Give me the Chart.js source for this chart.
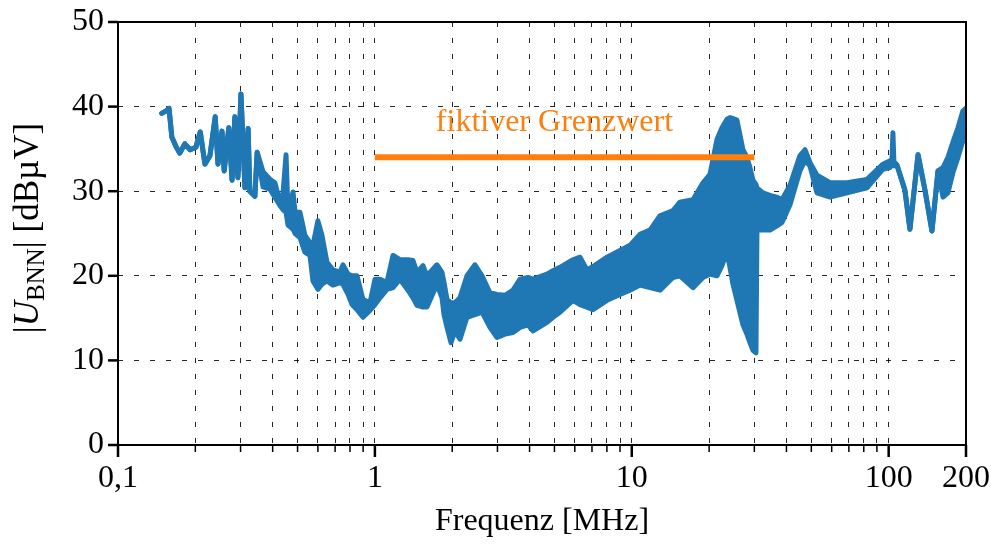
<!DOCTYPE html>
<html lang="de">
<head>
<meta charset="utf-8">
<title>Störspannung BNN</title>
<script src="https://cdn.jsdelivr.net/npm/chart.js@4.4.1/dist/chart.umd.min.js"></script>
<style>
  html, body { margin: 0; padding: 0; background: #fff; }
  #wrap { width: 991px; height: 545px; }
</style>
</head>
<body>
<div id="wrap"><canvas id="pegel" width="991" height="545"></canvas></div>
<script>
// Messfrequenzen in MHz
const frequenz = [
  0.148, 0.154, 0.158, 0.162, 0.168, 0.174, 0.182, 0.191, 0.201, 0.209,
  0.218, 0.228, 0.239, 0.245, 0.254, 0.259, 0.270, 0.278, 0.285, 0.293,
  0.301, 0.312, 0.321, 0.326, 0.341, 0.348, 0.367, 0.391, 0.408, 0.427,
  0.439, 0.451, 0.459, 0.480, 0.489, 0.511, 0.534, 0.559, 0.574, 0.600,
  0.622, 0.651, 0.687, 0.731, 0.751, 0.786, 0.815, 0.852, 0.899, 0.957,
  1.001, 1.047, 1.114, 1.176, 1.252, 1.345, 1.407, 1.458, 1.539, 1.595,
  1.745, 1.825, 1.858, 1.909, 1.978, 2.050, 2.144, 2.283, 2.452, 2.612,
  2.805, 2.988, 3.209, 3.448, 3.672, 3.945, 4.126, 4.677, 4.935, 5.255,
  5.903, 6.286, 6.693, 7.063, 8.009, 8.997, 9.84, 10.76, 11.77, 12.88,
  14.47, 15.40, 17.31, 18.93, 20.16, 21.46, 22.44, 23.47, 24.11, 24.77,
  25.67, 27.09, 28.08, 28.84, 29.63, 30.44, 30.71, 32.41, 34.51, 36.75,
  38.43, 41.29, 45.15, 47.23, 49.39, 52.60, 59.09, 68.83, 82.32, 95.02,
  101.2, 103.0, 103.9, 104.8, 107.7, 115.7, 121.0, 130.1, 138.5, 147.4,
  155.6, 162.7, 170.1, 177.9, 186.1, 194.6, 200
];

// obere Hüllkurve der Störspannung in dBµV
const pegelMax = [
  39.2, 39.5, 39.8, 36.4, 35.3, 34.5, 35.6, 34.9, 35.2, 37.0,
  33.2, 34.2, 38.8, 33.2, 37.1, 32.4, 37.5, 31.3, 38.8, 31.6,
  41.5, 30.4, 37.4, 30.0, 29.4, 34.6, 32.3, 31.4, 31.0, 28.7,
  29.8, 34.3, 27.5, 29.9, 27.5, 27.5, 24.8, 23.9, 23.6, 26.5,
  24.8, 21.6, 20.7, 20.4, 21.3, 20.2, 20.0, 20.0, 17.2, 16.8,
  19.6, 19.6, 19.2, 22.4, 21.9, 21.9, 21.8, 20.4, 21.2, 20.0,
  21.3, 20.4, 19.2, 17.2, 16.8, 16.8, 17.4, 20.0, 21.3, 20.0,
  18.0, 17.8, 17.7, 18.3, 19.6, 19.8, 19.6, 20.2, 20.6, 21.0,
  21.9, 22.2, 20.7, 21.1, 22.2, 23.0, 23.6, 24.9, 25.4, 27.1,
  27.7, 28.7, 29.0, 31.0, 32.0, 36.1, 37.5, 38.5, 38.7, 38.6,
  38.4, 34.9, 34.0, 32.8, 31.3, 30.8, 30.4, 29.8, 29.5, 29.3,
  29.0, 30.7, 34.2, 34.9, 33.4, 31.9, 31.0, 31.0, 31.4, 33.2,
  33.6, 33.7, 36.9, 33.5, 33.1, 30.1, 25.5, 34.3, 30.1, 25.3,
  32.4, 32.8, 34.0, 35.8, 37.5, 39.5, 39.8
];

// untere Hüllkurve der Störspannung in dBµV
const pegelMin = [
  39.2, 39.5, 39.8, 36.4, 35.3, 34.5, 35.6, 34.9, 35.2, 37.0,
  33.2, 34.2, 38.8, 33.2, 37.1, 32.4, 37.5, 31.3, 38.8, 31.6,
  41.5, 30.4, 37.4, 30.0, 29.4, 34.6, 30.5, 30.2, 29.3, 28.3,
  27.8, 27.5, 26.0, 25.5, 25.0, 24.5, 22.8, 22.4, 19.4, 18.4,
  19.0, 19.4, 18.9, 19.2, 19.0, 17.8, 16.6, 16.0, 15.1, 15.9,
  16.6, 17.4, 18.4, 18.6, 19.6, 18.3, 17.4, 16.5, 16.3, 16.3,
  19.0, 17.4, 15.4, 13.9, 12.1, 13.5, 12.5, 15.1, 15.4, 15.7,
  13.9, 12.7, 13.1, 13.3, 13.9, 14.2, 13.5, 14.5, 15.1, 15.7,
  17.1, 16.6, 16.3, 16.0, 17.1, 17.8, 18.3, 18.9, 18.6, 18.3,
  19.8, 20.0, 18.6, 19.8, 20.2, 20.0, 21.2, 22.8, 21.0, 19.0,
  17.1, 14.2, 13.1, 12.1, 11.2, 10.9, 25.4, 25.4, 25.4, 25.9,
  26.3, 28.4, 32.4, 33.6, 33.0, 29.8, 29.3, 29.8, 30.4, 32.6,
  32.8, 33.3, 33.4, 33.0, 33.1, 30.1, 25.5, 34.3, 30.1, 25.3,
  32.4, 29.3, 29.8, 32.2, 34.0, 36.0, 36.0
];

// fiktiver Grenzwert von 1 bis 30 MHz
const grenzFreq = [1, 30];
const grenzPegel = [34, 34];

// Achsenteilung
const xTicks = [
  0.1, 0.2, 0.3, 0.4, 0.5, 0.6, 0.7, 0.8, 0.9,
  1, 2, 3, 4, 5, 6, 7, 8, 9,
  10, 20, 30, 40, 50, 60, 70, 80, 90,
  100, 200
];
const xLabelWerte = [0.1, 1, 10, 100, 200];
const xLabelTexte = ['0,1', '1', '10', '100', '200'];
const yTicks = [0, 10, 20, 30, 40, 50];

const blau = '#1f77b4';
const orange = '#ff7f0e';
const schrift = '"Liberation Serif", "Times New Roman", serif';
const groesse = 32;

function xLabelIndex(v) {
  return xLabelWerte.findIndex(w => Math.abs(w - v) < 1e-9);
}

function punkte(xs, ys) {
  return xs.map((f, i) => ({ x: f, y: ys[i] }));
}

// Rahmen, Teilstriche und Beschriftungen
const rahmen = {
  id: 'rahmen',
  afterDraw(chart) {
    const { ctx, chartArea: a } = chart;
    const xs = chart.scales.x;
    const ys = chart.scales.y;
    ctx.save();
    ctx.strokeStyle = '#000';
    ctx.lineWidth = 2;
    ctx.strokeRect(a.left, a.top, a.right - a.left, a.bottom - a.top);

    ctx.lineWidth = 2.5;
    yTicks.forEach(v => {
      const py = ys.getPixelForValue(v);
      ctx.beginPath();
      ctx.moveTo(a.left - 10, py);
      ctx.lineTo(a.left, py);
      ctx.stroke();
    });
    xTicks.forEach(v => {
      const px = xs.getPixelForValue(v);
      const major = xLabelIndex(v) >= 0;
      ctx.lineWidth = major ? 2.5 : 1.5;
      ctx.beginPath();
      ctx.moveTo(px, a.bottom);
      ctx.lineTo(px, a.bottom + (major ? 12 : 7));
      ctx.stroke();
    });

    // Beschriftung des Grenzwerts
    ctx.fillStyle = orange;
    ctx.font = groesse + 'px ' + schrift;
    ctx.textAlign = 'center';
    ctx.textBaseline = 'alphabetic';
    ctx.fillText('fiktiver Grenzwert', xs.getPixelForValue(5), ys.getPixelForValue(37.1));

    // x-Achsentitel
    ctx.fillStyle = '#000';
    ctx.textBaseline = 'middle';
    ctx.fillText('Frequenz [MHz]', (a.left + a.right) / 2, 522);

    // y-Achsentitel mit Index
    const gt = 35;
    const teile = [
      { t: '|', f: gt + 'px ' + schrift, dy: 0 },
      { t: 'U', f: 'italic ' + gt + 'px ' + schrift, dy: 0 },
      { t: 'BNN', f: Math.round(gt * 0.7) + 'px ' + schrift, dy: 6 },
      { t: '| [dBµV]', f: gt + 'px ' + schrift, dy: 0 }
    ];
    let breite = 0;
    teile.forEach(p => { ctx.font = p.f; p.w = ctx.measureText(p.t).width; breite += p.w; });
    ctx.translate(27, 228);
    ctx.rotate(-Math.PI / 2);
    ctx.textAlign = 'left';
    ctx.textBaseline = 'alphabetic';
    let pos = -breite / 2;
    teile.forEach(p => {
      ctx.font = p.f;
      ctx.fillText(p.t, pos, 11 + p.dy);
      pos += p.w;
    });
    ctx.restore();
  }
};

new Chart(document.getElementById('pegel'), {
  type: 'line',
  data: {
    datasets: [
      {
        label: 'Grenzwert',
        data: punkte(grenzFreq, grenzPegel),
        borderColor: orange,
        borderWidth: 6,
        borderCapStyle: 'butt',
        pointRadius: 0,
        fill: false,
        order: 0
      },
      {
        label: 'Maximum',
        data: punkte(frequenz, pegelMax),
        borderColor: blau,
        borderWidth: 5,
        borderJoinStyle: 'round',
        borderCapStyle: 'round',
        pointRadius: 0,
        tension: 0,
        fill: false,
        order: 1
      },
      {
        label: 'Minimum',
        data: punkte(frequenz, pegelMin),
        borderColor: blau,
        backgroundColor: blau,
        borderWidth: 5,
        borderJoinStyle: 'round',
        borderCapStyle: 'round',
        pointRadius: 0,
        tension: 0,
        fill: '-1',
        order: 1
      }
    ]
  },
  options: {
    responsive: false,
    animation: false,
    devicePixelRatio: 1,
    layout: { padding: { top: 22, right: 25, left: 0, bottom: 0 } },
    plugins: {
      legend: { display: false },
      tooltip: { enabled: false }
    },
    scales: {
      x: {
        type: 'logarithmic',
        min: 0.1,
        max: 200,
        afterBuildTicks: scale => { scale.ticks = xTicks.map(v => ({ value: v })); },
        afterFit: scale => {
          scale.height = 100;
          scale.paddingLeft = 0;
          scale.paddingRight = 0;
        },
        ticks: {
          autoSkip: false,
          maxRotation: 0,
          padding: 14,
          color: '#000',
          font: { family: schrift, size: groesse },
          callback: v => {
            const i = xLabelIndex(v);
            return i >= 0 ? xLabelTexte[i] : '';
          }
        },
        grid: {
          color: 'rgba(0,0,0,0.85)',
          lineWidth: 1,
          drawTicks: false
        },
        border: { display: false, dash: [5, 11] }
      },
      y: {
        min: 0,
        max: 50,
        afterBuildTicks: scale => { scale.ticks = yTicks.map(v => ({ value: v })); },
        afterFit: scale => {
          scale.width = 118;
          scale.paddingTop = 0;
          scale.paddingBottom = 0;
        },
        ticks: {
          padding: 14,
          color: '#000',
          font: { family: schrift, size: groesse }
        },
        grid: {
          color: 'rgba(0,0,0,0.85)',
          lineWidth: 1,
          drawTicks: false
        },
        border: { display: false, dash: [5, 11] }
      }
    }
  },
  plugins: [rahmen]
});
</script>
</body>
</html>
